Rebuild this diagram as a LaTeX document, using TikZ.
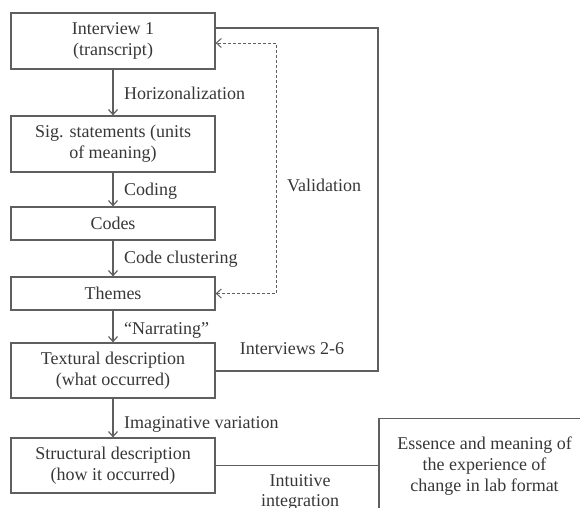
\documentclass[tikz,border=0pt]{standalone}
\usepackage{fontspec}
\setmainfont{Liberation Serif}
\usetikzlibrary{arrows.meta}
\definecolor{linec}{RGB}{95,95,95}
\definecolor{textc}{RGB}{55,55,55}
\tikzset{
  box/.style={draw=linec, line width=1.2pt, minimum width=204pt, align=center, inner sep=0pt, text=textc, font=\fontsize{18}{21}\selectfont},
  lbl/.style={text=textc, inner sep=0pt, font=\fontsize{18}{21}\selectfont},
  arr/.style={draw=linec, line width=1.2pt, -{Straight Barb[length=5pt,width=9pt]}},
  conn/.style={draw=linec, line width=1.2pt},
  dasharr/.style={draw=linec, line width=1pt, dash pattern=on 3pt off 2pt, {Straight Barb[length=5pt,width=9pt]}-{Straight Barb[length=5pt,width=9pt]}}
}
\begin{document}
\begin{tikzpicture}[x=1pt,y=-1pt]
\useasboundingbox (0,0) rectangle (580,507);
\node[box, minimum height=56pt] (i1) at (113,41) {Interview 1\\(transcript)};
\node[box, minimum height=56pt] (sig) at (113,144) {Sig. statements (units\\of meaning)};
\node[box, minimum height=33pt] (codes) at (113,223.5) {Codes};
\node[box, minimum height=33pt] (th) at (113,293.5) {Themes};
\node[box, minimum height=55pt] (tx) at (113,370.5) {Textural description\\(what occurred)};
\node[box, minimum height=55pt] (st) at (113,465.5) {Structural description\\(how it occurred)};
\node[box, minimum width=211pt, minimum height=95pt] (es) at (484.5,466) {Essence and meaning of\\the experience of\\change in lab format};

\draw[arr] (i1) -- (sig);
\draw[arr] (sig) -- (codes);
\draw[arr] (codes) -- (th);
\draw[arr] (th) -- (tx);
\draw[arr] (tx) -- (st);
\draw[conn] (st) -- (es.west |- st);

\coordinate (tr) at (378,28);
\coordinate (br) at (378,371);
\draw[conn] (tx.east |- br) -- (br) -- (tr) -- (i1.east |- tr);

\coordinate (vb) at (276,293.5);
\coordinate (vt) at (276,43);
\draw[dasharr] (th.east) -- (vb) -- (vt) -- (i1.east |- vt);

\node[lbl, anchor=base west] (l1) at (124,99) {Horizonalization};
\node[lbl, anchor=base west] (l2) at (124,195) {Coding};
\node[lbl, anchor=base west] (l3) at (124,263) {Code clustering};
\node[lbl, anchor=base west] (l4) at (124,334) {``Narrating''};
\node[lbl, anchor=base west] (l5) at (124,428) {Imaginative variation};
\node[lbl, anchor=base] (lv) at (324,191) {Validation};
\node[lbl, anchor=base] (li) at (292,354) {Interviews 2-6};
\node[lbl, anchor=base] (lii) at (300,486) {Intuitive};
\node[lbl, anchor=base] (liii) at (300,506) {integration};
\end{tikzpicture}
\end{document}
